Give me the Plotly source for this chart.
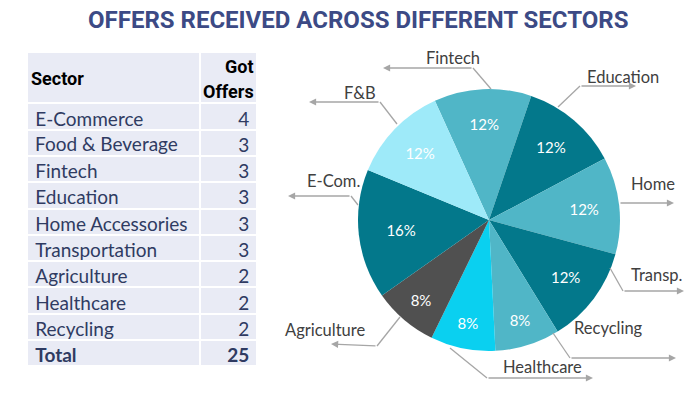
import plotly.graph_objects as go

# ---------------- data ----------------
table_sectors = ["E-Commerce", "Food & Beverage", "Fintech", "Education", "Home Accessories",
                 "Transportation", "Agriculture", "Healthcare", "Recycling"]
table_offers = [4, 3, 3, 3, 3, 3, 2, 2, 2]
total_label = "Total"
total_value = 25
table_headers = ["Sector", "Got", "Offers"]

pie_labels = ["Fintech", "Education", "Home", "Transp.", "Recycling",
              "Healthcare", "Agriculture", "E-Com.", "F&B"]
pie_values = [3, 3, 3, 3, 2, 2, 2, 4, 3]
pie_colors = ["#50b6c7", "#03788b", "#50b6c7", "#03788b", "#50b6c7",
              "#0ad0f0", "#505050", "#03788b", "#9eeaf9"]

W, H = 688, 395


def px(x):
    return x / W


def py(y):
    return 1 - y / H


fig = go.Figure()
annotations = []

# ---------------- table ----------------
navy = "#2f3b62"
fill = "#e9ebf5"
cell_font = dict(family="Lato, Open Sans, sans-serif", size=19, color=navy)
tx0, tx1 = 27.3, 257.3
top, hdr_h, row_h = 52.3, 51, 26.3

# plotly's table grows a row when its text holds spaces or markup ("&"),
# so spaces become no-break spaces and "&" texts are laid over their cell
col1_vals = []
for i, s in enumerate(table_sectors):
    if "&" in s:
        col1_vals.append("")
        annotations.append(dict(x=px(tx0 + 5.5), y=py(top + hdr_h + row_h * (i + 0.5) + 0.5),
                                xref="paper", yref="paper", text=s.replace("&", "&amp;"),
                                showarrow=False, xanchor="left", yanchor="middle", font=cell_font))
    else:
        col1_vals.append(s.replace(" ", "\u00a0"))
col2_vals = [str(v) for v in table_offers]

body_bottom = top + hdr_h + row_h * len(table_sectors)
fig.add_trace(go.Table(
    domain=dict(x=[px(tx0), px(tx1)], y=[py(body_bottom), py(top)]),
    columnwidth=[173, 57],
    header=dict(values=["", ""], fill_color=fill,
                line=dict(color="white", width=2), height=hdr_h),
    cells=dict(
        values=[col1_vals, col2_vals],
        align=["left", "right"],
        fill_color=fill,
        line=dict(color="white", width=2),
        font=cell_font,
        height=row_h,
    ),
))
# total row (bold)
fig.add_trace(go.Table(
    domain=dict(x=[px(tx0), px(tx1)], y=[py(body_bottom + row_h + 1), py(body_bottom)]),
    columnwidth=[173, 57],
    header=dict(values=[total_label, str(total_value)], align=["left", "right"],
                fill_color=fill, line=dict(color="white", width=2), height=row_h,
                font=dict(cell_font, weight="bold")),
    cells=dict(values=[[], []], height=row_h),
))

# ---------------- pie ----------------
cx, cy, R = 489, 220, 131
fig.add_trace(go.Pie(
    labels=pie_labels,
    values=pie_values,
    sort=False,
    direction="clockwise",
    rotation=-24.4,
    marker=dict(colors=pie_colors, line=dict(width=0)),
    texttemplate="%{percent:.0%}",
    textposition="inside",
    insidetextorientation="horizontal",
    textfont=dict(family="Lato, Open Sans, sans-serif", size=15, color="white"),
    domain=dict(x=[px(cx - R), px(cx + R)], y=[py(cy + R), py(cy - R)]),
    showlegend=False,
    hoverinfo="label+value+percent",
))

# ---------------- callouts ----------------
callouts = [
    # label, text center, start on slice, elbow, arrow tip
    ("Fintech", (453, 58), (491, 89), (473, 68), (383, 68)),
    ("F&B", (360, 93), (397, 124), (380, 102), (309, 102)),
    ("E-Com.", (333, 181), (358, 205), (351, 196), (288, 196)),
    ("Education", (623, 77), (558, 107), (580, 86), (636, 86)),
    ("Home", (653, 184), (619, 203), (619, 203), (674, 203)),
    ("Transp.", (657, 275), (610, 268), (623, 291), (684, 291)),
    ("Recycling", (608, 328), (553, 333), (570, 358), (676, 358)),
    ("Healthcare", (542, 367), (450, 348), (487, 378), (593, 378)),
    ("Agriculture", (325, 330), (400, 317), (377, 346), (331, 344)),
]
gray = "#a6a6a6"
shapes = []
for lab, t, s, e, tip in callouts:
    if s != e:
        shapes.append(dict(type="line", xref="paper", yref="paper",
                           x0=px(s[0]), y0=py(s[1]), x1=px(e[0]), y1=py(e[1]),
                           line=dict(color=gray, width=1.3)))
    annotations.append(dict(x=px(tip[0]), y=py(tip[1]), xref="paper", yref="paper",
                            ax=e[0] - tip[0], ay=e[1] - tip[1], axref="pixel", ayref="pixel",
                            text="", showarrow=True, arrowhead=2, arrowsize=1.1,
                            arrowwidth=1.3, arrowcolor=gray))
    annotations.append(dict(x=px(t[0]), y=py(t[1]), xref="paper", yref="paper",
                            text=lab.replace("&", "&amp;"), showarrow=False, xanchor="center", yanchor="middle",
                            font=dict(family="Lato, Open Sans, sans-serif", size=16.5, color="#404040")))

# table header texts
hdr_font = dict(family="Roboto, Liberation Sans, sans-serif", size=18, color="black")
annotations.append(dict(x=px(29), y=py(79), xref="paper", yref="paper", text="<b>%s</b>" % table_headers[0],
                        showarrow=False, xanchor="left", yanchor="middle", font=hdr_font))
annotations.append(dict(x=px(256), y=py(66), xref="paper", yref="paper", text="<b>%s</b>" % table_headers[1],
                        showarrow=False, xanchor="right", yanchor="middle", font=hdr_font))
annotations.append(dict(x=px(256), y=py(91), xref="paper", yref="paper", text="<b>%s</b>" % table_headers[2],
                        showarrow=False, xanchor="right", yanchor="middle", font=hdr_font))

annotations.append(dict(x=px(358), y=py(20), xref="paper", yref="paper",
                        text="<b>OFFERS RECEIVED ACROSS DIFFERENT SECTORS</b>", showarrow=False,
                        xanchor="center", yanchor="middle",
                        font=dict(family="Roboto, Liberation Sans, sans-serif",
                                  size=24, color="#3c4a85")))

fig.update_layout(
    width=W, height=H,
    margin=dict(l=0, r=0, t=0, b=0),
    paper_bgcolor="white", plot_bgcolor="white",
    shapes=shapes, annotations=annotations,
)

fig.write_html("out.html", config={"displayModeBar": False},
               post_script="document.body.style.margin='0';document.body.style.overflow='hidden';")
